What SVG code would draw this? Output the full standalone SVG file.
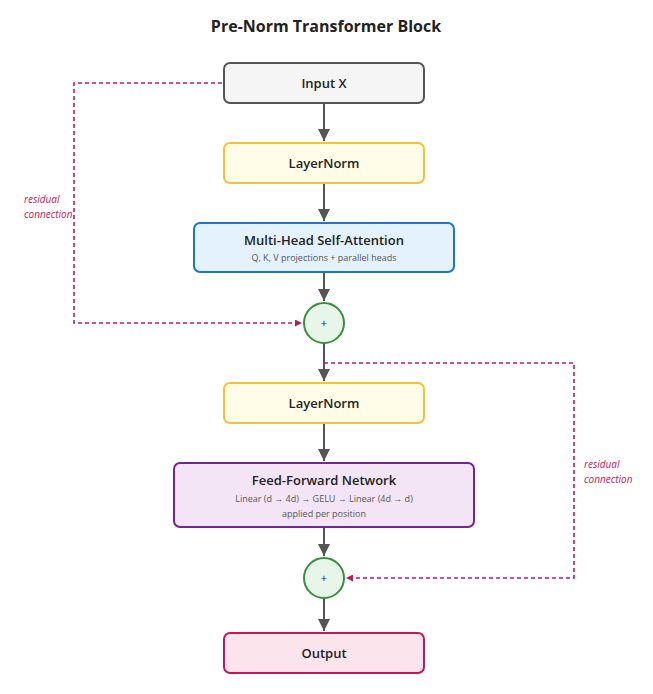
<svg xmlns="http://www.w3.org/2000/svg" width="653" height="694" viewBox="0 0 653 694">
<style>
text{font-family:"Open Sans","Noto Sans","Liberation Sans",sans-serif;fill:#222}
.t{font-size:13px;font-weight:600;text-anchor:middle}
.s{font-size:9px;fill:#555;text-anchor:middle}
.box{stroke-width:2}
.e{stroke:#555;stroke-width:2;fill:none}
.r{stroke:#c2185b;stroke-width:1.6;stroke-dasharray:4,3;fill:none}
.lab{font-size:10px;font-style:italic;fill:#c2185b}
</style>
<defs>
<marker id="a" viewBox="0 0 10 10" refX="10" refY="5" markerWidth="6" markerHeight="6" orient="auto"><path d="M0,0L10,5L0,10z" fill="#555"/></marker>
<marker id="b" viewBox="0 0 10 10" refX="10" refY="5" markerWidth="9" markerHeight="7" orient="auto" markerUnits="userSpaceOnUse"><path d="M0,0L10,5L0,10z" fill="#c2185b"/></marker>
</defs>
<rect width="653" height="694" fill="#fff"/>
<text x="326" y="32" class="t" style="font-size:16px;font-weight:700">Pre-Norm Transformer Block</text>
<g id="connectors">
<path class="e" d="M324,103V141" marker-end="url(#a)"/>
<path class="e" d="M324,183V221" marker-end="url(#a)"/>
<path class="e" d="M324,272V301" marker-end="url(#a)"/>
<path class="e" d="M324,343V381" marker-end="url(#a)"/>
<path class="e" d="M324,423V461" marker-end="url(#a)"/>
<path class="e" d="M324,527V556" marker-end="url(#a)"/>
<path class="e" d="M324,598V631" marker-end="url(#a)"/>
<path class="r" d="M222,83H74V323H302" marker-end="url(#b)"/>
<path class="r" d="M324,363H574V578H346" marker-end="url(#b)"/>
<text x="24" y="203" class="lab">residual</text>
<text x="24" y="218" class="lab">connection</text>
<text x="584" y="468" class="lab">residual</text>
<text x="584" y="483" class="lab">connection</text>
</g>
<g id="input"><rect x="224" y="63" width="200" height="40" rx="6" class="box" fill="#f5f5f5" stroke="#555"/><text x="324" y="88" class="t">Input X</text></g>
<g id="ln1"><rect x="224" y="143" width="200" height="40" rx="6" class="box" fill="#fffde7" stroke="#fbc02d"/><text x="324" y="168" class="t">LayerNorm</text></g>
<g id="mhsa"><rect x="194" y="223" width="260" height="49" rx="6" class="box" fill="#e3f2fd" stroke="#1976d2"/><text x="324" y="245" class="t">Multi-Head Self-Attention</text><text x="324" y="261" class="s">Q, K, V projections + parallel heads</text></g>
<g id="add1"><circle cx="324" cy="323" r="20" class="box" fill="#e8f5e9" stroke="#388e3c"/><text x="324" y="327" class="s" style="font-size:11px;fill:#222">+</text></g>
<g id="ln2"><rect x="224" y="383" width="200" height="40" rx="6" class="box" fill="#fffde7" stroke="#fbc02d"/><text x="324" y="408" class="t">LayerNorm</text></g>
<g id="ffn"><rect x="174" y="463" width="300" height="64" rx="6" class="box" fill="#f3e5f5" stroke="#7b1fa2"/><text x="324" y="485" class="t">Feed-Forward Network</text><text x="324" y="502" class="s">Linear (d → 4d) → GELU → Linear (4d → d)</text><text x="324" y="517" class="s">applied per position</text></g>
<g id="add2"><circle cx="324" cy="578" r="20" class="box" fill="#e8f5e9" stroke="#388e3c"/><text x="324" y="582" class="s" style="font-size:11px;fill:#222">+</text></g>
<g id="output"><rect x="224" y="633" width="200" height="40" rx="6" class="box" fill="#fce4ec" stroke="#c2185b"/><text x="324" y="658" class="t">Output</text></g>
</svg>
